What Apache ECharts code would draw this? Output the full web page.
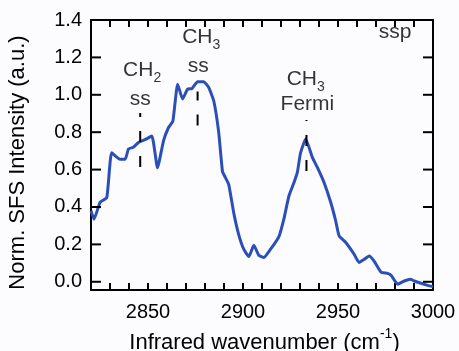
<!DOCTYPE html>
<html>
<head>
<meta charset="utf-8">
<script src="https://cdn.jsdelivr.net/npm/echarts@6/dist/echarts.min.js"></script>
<style>
  html, body { margin: 0; padding: 0; background: #fcfcfe; }
  #chart { width: 459px; height: 351px; }
</style>
</head>
<body>
<div id="chart"></div>
<script>
// SFS spectrum, ssp polarisation
const wavenumber = [
  2820.0, 2821.6, 2824.8, 2828.3, 2830.9, 2835.3, 2838.0, 2839.7, 2842.3, 2845.0,
  2848.5, 2852.0, 2855.0, 2858.2, 2860.8, 2863.1, 2865.6, 2868.2, 2870.8, 2873.2,
  2876.1, 2879.3, 2881.9, 2884.6, 2887.2, 2889.2, 2890.7, 2892.5, 2895.1, 2897.7,
  2900.4, 2903.1, 2905.7, 2908.3, 2911.0, 2914.5, 2918.9, 2921.5, 2924.2, 2926.8,
  2928.6, 2930.3, 2933.0, 2936.5, 2939.2, 2942.7, 2946.2, 2948.8, 2950.6, 2954.1,
  2958.5, 2961.1, 2963.8, 2966.4, 2969.0, 2972.6, 2976.1, 2977.9, 2981.4, 2984.9,
  2988.1, 2990.2, 2993.7, 2997.2, 3000.0
];
const intensity = [
  0.38, 0.335, 0.425, 0.45, 0.69, 0.655, 0.655, 0.71, 0.72, 0.745,
  0.76, 0.78, 0.61, 0.755, 0.825, 0.86, 1.057, 0.977, 1.03, 1.034,
  1.07, 1.07, 1.04, 0.968, 0.80, 0.59, 0.558, 0.52, 0.37, 0.254,
  0.174, 0.135, 0.195, 0.142, 0.13, 0.174, 0.242, 0.335, 0.46, 0.53,
  0.585, 0.69, 0.763, 0.665, 0.61, 0.53, 0.424, 0.325, 0.245, 0.21,
  0.147, 0.103, 0.12, 0.138, 0.111, 0.052, 0.045, 0.035, -0.013, 0.004,
  0.013, 0.004, -0.008, -0.019, -0.026
];

const xRange = [2820, 3000];
const xStep = 10;
const yRange = [-0.044, 1.4];
const xMajorTicks = [2850, 2900, 2950, 3000];
const yTicks = [0, 0.2, 0.4, 0.6, 0.8, 1.0, 1.2, 1.4];

// dashed peak markers
const markerX = [2845.9, 2876.1, 2933.4];
const markerTop = [0.903, 1.017, 0.865];
const markerBottom = [0.598, 0.821, 0.560];
const markerDashOffset = [7, 2, 10];

// peak assignments
const noteX = [2846.9, 2845.9, 2878.0, 2876.4, 2933.0, 2933.9, 2980.0];
const noteY = [1.133, 0.974, 1.306, 1.154, 1.083, 0.947, 1.333];
const noteText = ['CH{sub|2}', 'ss', 'CH{sub|3}', 'ss', 'CH{sub|3}', 'Fermi', 'ssp'];

const font = "'Liberation Sans', Arial, sans-serif";
const black = '#000';

const grid = { left: 91, right: 26, top: 20, bottom: 61 };
const pxPerX = (459 - grid.left - grid.right) / (xRange[1] - xRange[0]);

// y ticks: short two-point lines pointing into the box
function segment(a, b) {
  return {
    type: 'line',
    data: [a, b],
    symbol: 'none',
    silent: true,
    z: 4,
    lineStyle: { color: black, width: 2, type: 'solid', cap: 'butt' }
  };
}
function yTickLines(values, lenPx) {
  const d = lenPx / pxPerX;
  return values.flatMap(v => [
    segment([xRange[0], v], [xRange[0] + d, v]),
    segment([xRange[1], v], [xRange[1] - d, v])
  ]);
}

const chart = echarts.init(document.getElementById('chart'));

const frame = { show: true, onZero: false, lineStyle: { color: black, width: 2 } };
const xTick = { show: true, inside: true, length: 7, lineStyle: { color: black, width: 2 } };

const markerSeries = markerX.map((x, i) => ({
  type: 'line',
  data: [[x, markerTop[i]], [x, markerBottom[i]]],
  symbol: 'none',
  z: 5,
  silent: true,
  lineStyle: { color: black, width: 2, type: [11, 14], dashOffset: markerDashOffset[i], cap: 'butt' }
}));

const option = {
  backgroundColor: '#fcfcfe',
  animation: false,
  textStyle: { fontFamily: font },
  grid: { left: grid.left, right: grid.right, top: grid.top, bottom: grid.bottom, outerBoundsMode: 'none' },
  xAxis: [
    {
      type: 'value', position: 'bottom', min: xRange[0], max: xRange[1], interval: xStep,
      axisLine: frame,
      axisTick: xTick,
      axisLabel: { customValues: xMajorTicks, margin: 12, fontSize: 20, color: black,
        fontFamily: font, formatter: v => String(v), showMaxLabel: true, showMinLabel: true },
      splitLine: { show: false },
      name: 'Infrared wavenumber (cm{sup|-1})',
      nameLocation: 'middle',
      nameGap: 34,
      nameTextStyle: {
        fontSize: 22, color: black, fontFamily: font, padding: [0, 0, 0, 5],
        rich: { sup: { fontSize: 14, color: black, fontFamily: font, padding: [0, 0, 19, 0] } }
      }
    },
    {
      type: 'value', position: 'top', min: xRange[0], max: xRange[1], interval: xStep,
      axisLine: frame,
      axisTick: xTick,
      axisLabel: { show: false },
      splitLine: { show: false }
    }
  ],
  yAxis: [
    {
      type: 'value', position: 'left', min: yRange[0], max: yRange[1],
      axisLine: frame,
      axisTick: { show: false },
      axisLabel: { customValues: yTicks, margin: 9, fontSize: 20, color: black,
        fontFamily: font, formatter: v => v.toFixed(1), showMaxLabel: true, showMinLabel: true },
      splitLine: { show: false },
      name: 'Norm. SFS Intensity (a.u.)',
      nameLocation: 'middle',
      nameRotate: 90,
      nameGap: 62,
      nameTextStyle: { fontSize: 22, color: black, fontFamily: font, padding: [0, 15, 0, 0] }
    },
    {
      type: 'value', position: 'right', min: yRange[0], max: yRange[1],
      axisLine: frame,
      axisTick: { show: false },
      axisLabel: { show: false },
      splitLine: { show: false }
    }
  ],
  series: [
    {
      type: 'line',
      data: wavenumber.map((w, i) => [w, intensity[i]]),
      symbol: 'none',
      smooth: 0.15,
      z: 3,
      lineStyle: { color: '#2b4fb7', width: 3, join: 'round' }
    },
    ...yTickLines(yTicks, 10),
    ...markerSeries,
    {
      type: 'scatter',
      data: noteX.map((x, i) => [x, noteY[i]]),
      symbolSize: 1,
      itemStyle: { color: 'rgba(0,0,0,0)' },
      silent: true,
      z: 6,
      label: {
        show: true,
        position: 'inside',
        formatter: p => noteText[p.dataIndex],
        fontSize: 21,
        color: black,
        fontFamily: font,
        rich: {
          sub: { fontSize: 14, color: black, fontFamily: font, padding: [16, 0, 0, 0] }
        }
      }
    }
  ]
};

chart.setOption(option);
</script>
</body>
</html>
